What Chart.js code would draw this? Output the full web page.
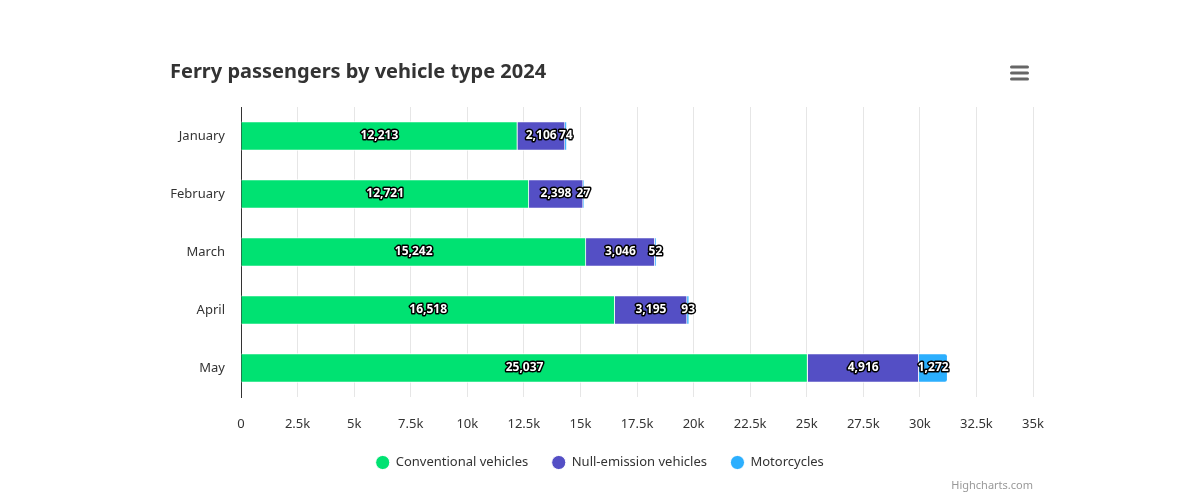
<!DOCTYPE html>
<html>
<head>
<meta charset="utf-8">
<title>Ferry passengers by vehicle type 2024</title>
<script src="https://cdn.jsdelivr.net/npm/chart.js@4.4.1/dist/chart.umd.min.js"></script>
<style>
  html, body { margin: 0; padding: 0; background: #fff; }
  #wrap { width: 1200px; height: 496px; }
</style>
</head>
<body>
<div id="wrap"><canvas id="chart" width="1200" height="496"></canvas></div>
<script>
// chart data
const months = ['January', 'February', 'March', 'April', 'May'];
const conventional = [12213, 12721, 15242, 16518, 25037];
const nullEmission = [2106, 2398, 3046, 3195, 4916];
const motorcycles = [74, 27, 52, 93, 1272];
const seriesNames = ['Conventional vehicles', 'Null-emission vehicles', 'Motorcycles'];
const seriesColors = ['#00e272', '#544fc5', '#2caffe'];
const xTickStep = 2500;
const xMax = 35000;

const FONT = '"Noto Sans", "Open Sans", Arial, sans-serif';
const TITLE = 'Ferry passengers by vehicle type 2024';

// title, export menu icon and credits (highcharts-style chrome)
const chromePlugin = {
  id: 'chrome',
  afterDraw(chart) {
    const ctx = chart.ctx;
    ctx.save();
    ctx.fillStyle = '#333333';
    ctx.font = 'bold 20px ' + FONT;
    ctx.textAlign = 'left';
    ctx.textBaseline = 'middle';
    ctx.fillText(TITLE, 170, 72);

    // hamburger menu
    ctx.strokeStyle = '#666666';
    ctx.lineWidth = 3;
    ctx.lineCap = 'round';
    [67, 73, 79].forEach(y => {
      ctx.beginPath();
      ctx.moveTo(1011.5, y);
      ctx.lineTo(1027.5, y);
      ctx.stroke();
    });

    ctx.fillStyle = '#999999';
    ctx.font = '11px ' + FONT;
    ctx.textAlign = 'right';
    ctx.fillText('Highcharts.com', 1033, 486);
    ctx.restore();
  }
};

// white labels with dark outline, centred in every segment
const segmentLabels = {
  id: 'segmentLabels',
  afterDatasetsDraw(chart) {
    const ctx = chart.ctx;
    ctx.save();
    ctx.font = 'bold 12px ' + FONT;
    ctx.textAlign = 'center';
    ctx.textBaseline = 'middle';
    ctx.lineJoin = 'round';
    chart.data.datasets.forEach((ds, di) => {
      const meta = chart.getDatasetMeta(di);
      if (meta.hidden) return;
      meta.data.forEach((bar, i) => {
        const v = ds.data[i];
        if (!v) return;
        const txt = v.toLocaleString('en-US');
        const x = (bar.x + bar.base) / 2;
        const y = bar.y;
        ctx.strokeStyle = '#000000';
        ctx.lineWidth = 3;
        ctx.strokeText(txt, x, y);
        ctx.fillStyle = '#ffffff';
        ctx.fillText(txt, x, y);
      });
    });
    ctx.restore();
  }
};

const seriesData = [conventional, nullEmission, motorcycles];

new Chart(document.getElementById('chart'), {
  type: 'bar',
  data: {
    labels: months,
    datasets: seriesData.map((d, i) => ({
      label: seriesNames[i],
      data: d,
      backgroundColor: seriesColors[i],
      borderColor: '#ffffff',
      borderWidth: 1,
      borderSkipped: 'start',
      borderRadius: i === seriesData.length - 1 ? 3 : 0,
      barThickness: 29
    }))
  },
  options: {
    indexAxis: 'y',
    responsive: false,
    animation: false,
    events: [],
    layout: { padding: { top: 107, right: 0, bottom: 17, left: 0 } },
    scales: {
      x: {
        stacked: true,
        min: 0,
        max: xMax,
        grid: { color: '#e6e6e6', drawTicks: false },
        border: { display: false },
        ticks: {
          stepSize: xTickStep,
          padding: 19,
          color: '#333333',
          font: { family: FONT, size: 13 },
          maxRotation: 0,
          autoSkip: false,
          callback: v => v === 0 ? '0' : (v / 1000) + 'k'
        },
        afterFit: s => { s.height = 35; }
      },
      y: {
        stacked: true,
        grid: { display: false, drawTicks: false },
        border: { display: true, color: '#333333', width: 1 },
        ticks: {
          padding: 16,
          color: '#333333',
          font: { family: FONT, size: 13 }
        },
        afterFit: s => { s.width = 241; }
      },
      // empty right-hand spacer so the plot ends at 35k while the legend stays centred
      yRight: {
        type: 'category',
        position: 'right',
        labels: months,
        grid: { display: false, drawTicks: false },
        border: { display: false },
        ticks: { display: false },
        afterFit: s => { s.width = 167; }
      }
    },
    plugins: {
      title: { display: false },
      tooltip: { enabled: false },
      legend: {
        display: true,
        position: 'bottom',
        labels: {
          usePointStyle: true,
          pointStyle: 'circle',
          boxHeight: 10,
          boxWidth: 14,
          padding: 24,
          color: '#333333',
          font: { family: FONT, size: 13 }
        }
      }
    }
  },
  plugins: [chromePlugin, segmentLabels]
});
</script>
</body>
</html>
